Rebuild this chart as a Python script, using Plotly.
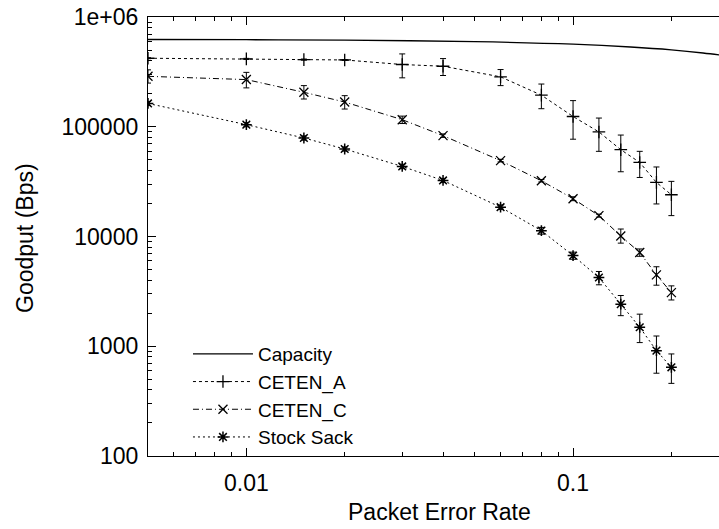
import numpy as np
import plotly.graph_objects as go

# ---------------- data ----------------
cap_x = [0.005, 0.01, 0.02, 0.05, 0.1, 0.15, 0.2, 0.25, 0.3]
cap_y = [624000, 621000, 615000, 596000, 565000, 533000, 502000, 470000, 439000]

per = [0.005, 0.01, 0.015, 0.02, 0.03, 0.04, 0.06, 0.08, 0.1, 0.12, 0.14, 0.16, 0.18, 0.2]

ceten_a = [421000, 415000, 409000, 406000, 369000, 356000, 285000, 194000, 124000, 89700, 61800, 47300, 31100, 24000]
ceten_a_hi = [425000, 420000, 414000, 410000, 461000, 418000, 332000, 245000, 173000, 120000, 84000, 59700, 43000, 31800]
ceten_a_lo = [417000, 410000, 404000, 402000, 279000, 293000, 237000, 146000, 77000, 59700, 38900, 34500, 19800, 15500]

ceten_c = [288000, 269000, 206000, 168000, 116000, 83000, 49100, 32200, 22100, 15500, 10100, 7150, 4470, 3080]
ceten_c_hi = [330000, 313000, 237000, 192000, 125000, 86000, 50500, 33000, 23000, 16000, 11700, 7700, 5300, 3550]
ceten_c_lo = [250000, 226000, 179000, 145000, 107000, 80000, 47800, 31400, 21200, 15000, 8700, 6600, 3600, 2640]

stock = [163000, 104500, 79000, 62700, 43500, 32400, 18500, 11300, 6700, 4230, 2420, 1490, 912, 643]
stock_hi = [170000, 109000, 82500, 65500, 45500, 33800, 19400, 12100, 7200, 4800, 2900, 1960, 1240, 851]
stock_lo = [156000, 100000, 75500, 60000, 41500, 31000, 17600, 10500, 6200, 3630, 1900, 1080, 568, 459]

x_ticks = [0.01, 0.1]
x_ticktext = ["0.01", "0.1"]
y_ticks = [100, 1000, 10000, 100000, 1000000]
y_ticktext = ["100", "1000", "10000", "100000", "1e+06"]

FONT = "Liberation Sans, Arial, Helvetica, sans-serif"
FS = 23


def minor_vals(lo_exp, hi_exp):
    return [m * 10.0 ** k for k in range(lo_exp, hi_exp) for m in range(2, 10)]


def err(vals, hi, lo):
    return dict(type="data", symmetric=False,
                array=[h - v for v, h in zip(vals, hi)],
                arrayminus=[v - l for v, l in zip(vals, lo)],
                color="black", thickness=1, width=3)


fig = go.Figure()
fig.add_trace(go.Scatter(x=cap_x, y=cap_y, mode="lines", name="Capacity",
                         line=dict(color="black", width=1.3, shape="spline")))
fig.add_trace(go.Scatter(x=per, y=ceten_a, mode="lines+markers", name="CETEN_A",
                         line=dict(color="black", width=1, dash="3px,3px"),
                         marker=dict(symbol="cross-thin-open", size=9, color="black",
                                     line=dict(color="black", width=1.3)),
                         error_y=err(ceten_a, ceten_a_hi, ceten_a_lo)))
fig.add_trace(go.Scatter(x=per, y=ceten_c, mode="lines+markers", name="CETEN_C",
                         line=dict(color="black", width=1, dash="6px,3px,1px,3px"),
                         marker=dict(symbol="x-thin-open", size=9, color="black",
                                     line=dict(color="black", width=1.3)),
                         error_y=err(ceten_c, ceten_c_hi, ceten_c_lo)))
fig.add_trace(go.Scatter(x=per, y=stock, mode="lines+markers", name="Stock Sack",
                         line=dict(color="black", width=1, dash="2px,3px"),
                         marker=dict(symbol="asterisk-open", size=9, color="black",
                                     line=dict(color="black", width=1.5)),
                         error_y=err(stock, stock_hi, stock_lo)))

W, H = 719, 529
ml, mr, mt, mb = 148, 0, 17, 73
pw = W - ml - mr
ph = H - mt - mb
x0 = np.log10(0.005)
ppd = 326.7
x1 = x0 + pw / ppd

fig.update_layout(
    width=W, height=H,
    margin=dict(l=ml, r=mr, t=mt, b=mb),
    paper_bgcolor="white", plot_bgcolor="white",
    font=dict(family=FONT, size=FS, color="black"),
    showlegend=True,
    legend=dict(x=0.07, y=0.0, xanchor="left", yanchor="bottom",
                bgcolor="rgba(0,0,0,0)", font=dict(size=19),
                tracegroupgap=0, itemwidth=60),
    xaxis=dict(type="log", range=[x0, x1], tickvals=x_ticks, ticktext=x_ticktext,
               ticks="inside", ticklen=8, tickwidth=1, tickcolor="black",
               showline=True, linecolor="black", linewidth=1.3, mirror="ticks",
               showgrid=False, zeroline=False, ticklabelstandoff=6,
               minor=dict(ticks="inside", ticklen=4, tickcolor="black", showgrid=False,
                          tickmode="array", tickvals=minor_vals(-3, 0)),
               tickfont=dict(size=FS)),
    yaxis=dict(type="log", range=[2, 6], tickvals=y_ticks, ticktext=y_ticktext,
               ticks="inside", ticklen=8, tickwidth=1, tickcolor="black",
               showline=True, linecolor="black", linewidth=1.3, mirror=False,
               showgrid=False, zeroline=False, ticklabelstandoff=4,
               minor=dict(ticks="inside", ticklen=4, tickcolor="black", showgrid=False,
                          tickmode="array", tickvals=minor_vals(2, 6)),
               tickfont=dict(size=FS)),
    annotations=[
        dict(text="Packet Error Rate", xref="paper", yref="paper",
             x=(439 - ml) / pw, y=-(512 - (H - mb)) / ph,
             xanchor="center", yanchor="middle", showarrow=False,
             font=dict(size=FS)),
        dict(text="Goodput (Bps)", xref="paper", yref="paper", textangle=-90,
             x=-(ml - 25) / pw, y=(H - mb - 238) / ph,
             xanchor="center", yanchor="middle", showarrow=False,
             font=dict(size=FS)),
    ],
)

fig.write_html("out.html")
